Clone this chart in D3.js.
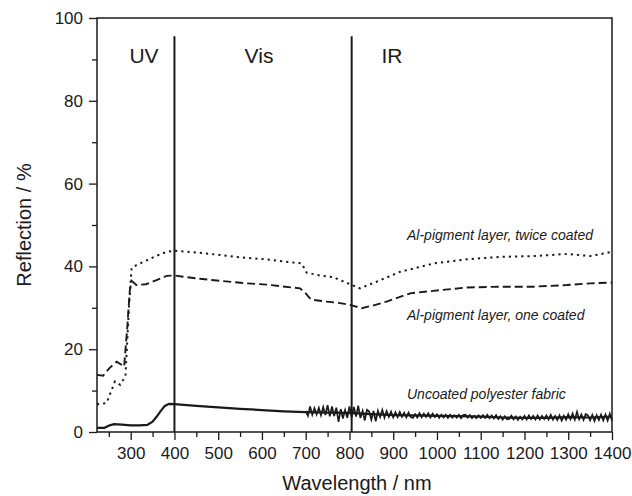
<!DOCTYPE html>
<html>
<head>
<meta charset="utf-8">
<script src="https://cdn.jsdelivr.net/npm/d3@7"></script>
<style>
  body { margin: 0; background: #fff; }
  svg { font-family: "Liberation Sans", Arial, sans-serif; }
</style>
</head>
<body>
<svg id="chart" width="632" height="496"></svg>
<script>
// reflection spectra, values
var twiceWl  = [223,245,264,276,288,296,302,313,333,360,382,400,458,550,611,691,702,733,763,801,824,862,916,992,1068,1144,1220,1297,1350,1400];
var twiceVal = [6.7,7.0,12.2,11.4,13.5,30,39.6,40.3,41.3,42.6,43.5,43.8,43.3,42.2,41.7,40.7,38.5,37.8,37.4,35.7,34.7,36.3,38.7,40.7,41.7,42.3,42.5,43.0,42.5,43.5];

var onceWl  = [223,237,252,268,285,292,298,302,313,335,359,382,400,458,565,611,687,700,712,748,775,801,828,855,885,939,992,1068,1144,1220,1297,1350,1400];
var onceVal = [13.8,13.6,15.5,17.0,15.8,25,34.3,36.5,35.5,35.7,36.7,37.7,37.8,37.0,35.9,35.6,34.7,33.5,32.0,31.5,31.2,30.7,29.9,30.6,31.5,33.5,34.1,34.9,35.1,35.1,35.5,35.9,36.1];

var bareWl  = [223,240,252,262,280,300,320,338,350,360,368,378,388,400,450,500,550,600,650,700,750,800,850,900,950,1000,1050,1100,1150,1200,1250,1300,1350,1400];
var bareVal = [1.0,1.0,1.6,1.9,1.8,1.6,1.6,1.7,2.5,3.8,5.0,6.3,6.8,6.75,6.3,5.95,5.6,5.3,5.0,4.8,4.7,4.6,4.3,4.1,4.0,3.9,3.85,3.7,3.5,3.4,3.4,3.6,3.5,3.7];

// detector noise on the uncoated trace (offset from the trace), every 5 nm from 700 to 1400
var noiseStart = 700, noiseStep = 5;
var noiseOff = [0.3,-0.9,1.4,-0.6,1.0,
  -0.5,1.1,-0.7,1.3,-0.6,1.8,-0.9,1.5,-0.8,1.2,-2.2,0.9,-1.4,0.7,-1.2,1.6,
  -1.0,1.5,-0.8,1.9,-1.1,0.7,-1.6,1.0,0.6,-1.3,0.8,-1.7,0.9,-0.6,1.1,-0.7,0.9,-0.5,0.8,-0.6,
  0.7,-0.5,0.8,-0.4,0.6,-0.5,0.7,-0.4,-0.6,0.3,-0.5,0.6,-0.4,0.5,-0.3,0.6,-0.4,0.5,-0.3,0.4,
  -0.5,0.3,-0.4,0.3,-0.5,0.3,-0.4,0.2,-0.4,0.3,-0.5,0.3,0.4,-0.3,0.3,-0.4,0.2,-0.4,0.3,-0.3,
  0.4,-0.3,0.5,-0.3,0.4,-0.3,0.5,-0.4,0.3,-0.5,0.3,-0.4,-0.3,0.5,-0.4,0.3,-0.5,0.3,-0.4,0.5,
  -0.4,0.6,-0.3,0.5,-0.4,0.6,-0.4,0.5,-0.3,0.6,-0.4,0.7,-0.5,0.4,-0.6,0.5,-0.8,0.4,-0.6,0.7,
  -0.5,0.9,-0.6,1.3,-0.5,0.7,-0.6,0.8,0.5,-0.7,0.6,-0.9,0.5,-0.7,0.6,-0.8,0.6,-0.9,0.7,-1.0];

var regionLines = [400, 805];
var regionNames = ["UV", "Vis", "IR"];
var regionLabelX = [144, 259, 392];
var xTicks = [300,400,500,600,700,800,900,1000,1100,1200,1300,1400];
var yTicks = [0,20,40,60,80,100];

var svg = d3.select("#chart");
var m = {left: 97, right: 20, top: 18, bottom: 64};
var W = 632 - m.left - m.right, H = 496 - m.top - m.bottom;
var g = svg.append("g").attr("transform", "translate(" + m.left + "," + m.top + ")");

var x = d3.scaleLinear().domain([223, 1400]).range([0, W]);
var y = d3.scaleLinear().domain([0, 100]).range([H, 0]);

var ink = "#1a1a1a";

// minor ticks first
g.append("g").attr("transform", "translate(0," + H + ")")
  .call(d3.axisBottom(x).tickValues(d3.range(250, 1400, 100)).tickSize(5).tickFormat(""))
  .call(function(s){ s.select(".domain").remove(); s.selectAll("line").attr("stroke", ink).attr("stroke-width", 1.3); });
g.append("g")
  .call(d3.axisLeft(y).tickValues([10,30,50,70,90]).tickSize(5).tickFormat(""))
  .call(function(s){ s.select(".domain").remove(); s.selectAll("line").attr("stroke", ink).attr("stroke-width", 1.3); });

var xa = g.append("g").attr("transform", "translate(0," + H + ")")
  .call(d3.axisBottom(x).tickValues(xTicks).tickFormat(d3.format("d")).tickSize(8).tickPadding(7).tickSizeOuter(0));
var ya = g.append("g")
  .call(d3.axisLeft(y).tickValues(yTicks).tickFormat(d3.format("d")).tickSize(8).tickPadding(6).tickSizeOuter(0));
[xa, ya].forEach(function(a){
  a.select(".domain").remove();
  a.selectAll("line").attr("stroke", ink).attr("stroke-width", 1.3);
  a.selectAll("text").attr("fill", ink).style("font-size", "17px").style("font-family", "Liberation Sans, Arial, sans-serif");
});

g.append("rect").attr("width", W).attr("height", H)
  .attr("fill", "none").attr("stroke", ink).attr("stroke-width", 1.5);

// region dividers
g.selectAll(".div").data(regionLines).enter().append("line")
  .attr("x1", function(d){ return x(d); }).attr("x2", function(d){ return x(d); })
  .attr("y1", y(0)).attr("y2", y(95.6))
  .attr("stroke", ink).attr("stroke-width", 2);

g.selectAll(".reg").data(regionNames).enter().append("text")
  .attr("x", function(d,i){ return regionLabelX[i] - m.left; })
  .attr("y", 63 - m.top)
  .attr("text-anchor", "middle")
  .attr("fill", ink).style("font-size", "21px")
  .text(function(d){ return d; });

var line = d3.line().x(function(d){ return x(d[0]); }).y(function(d){ return y(d[1]); });

// noisy part of the uncoated trace
var base = d3.scaleLinear().domain(bareWl).range(bareVal);
var noisy = noiseOff.map(function(o, i){ var w = noiseStart + i*noiseStep; return [w, base(w) + o]; });

g.append("path").datum(d3.zip(bareWl, bareVal)).attr("d", line)
  .attr("fill", "none").attr("stroke", ink).attr("stroke-width", 2.2);
g.append("path").datum(noisy).attr("d", line)
  .attr("fill", "none").attr("stroke", ink).attr("stroke-width", 1.7);
g.append("path").datum(d3.zip(onceWl, onceVal)).attr("d", line)
  .attr("fill", "none").attr("stroke", ink).attr("stroke-width", 1.9).attr("stroke-dasharray", "8,4");
g.append("path").datum(d3.zip(twiceWl, twiceVal)).attr("d", line)
  .attr("fill", "none").attr("stroke", ink).attr("stroke-width", 2).attr("stroke-dasharray", "2.2,4");

// curve labels
var notes = [["Al-pigment layer, twice coated", 240], ["Al-pigment layer, one coated", 320], ["Uncoated polyester fabric", 399]];
g.selectAll(".note").data(notes).enter().append("text")
  .attr("x", 407 - m.left).attr("y", function(d){ return d[1] - m.top; })
  .attr("fill", ink).style("font-size", "14px").style("font-style", "italic")
  .text(function(d){ return d[0]; });

svg.append("text").attr("x", 357).attr("y", 490).attr("text-anchor", "middle")
  .attr("fill", ink).style("font-size", "20px").text("Wavelength / nm");
svg.append("text").attr("transform", "translate(31,225) rotate(-90)").attr("text-anchor", "middle")
  .attr("fill", ink).style("font-size", "20px").text("Reflection / %");
</script>
</body>
</html>
